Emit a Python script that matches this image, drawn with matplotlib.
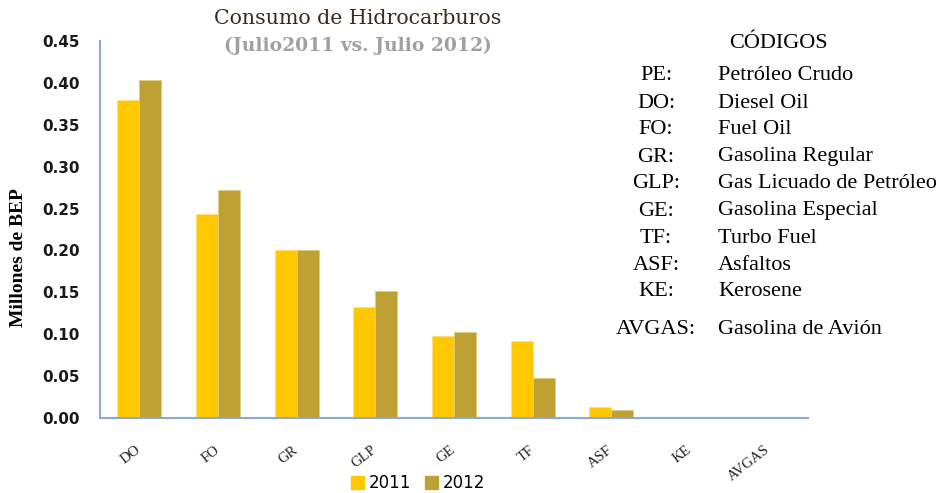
import numpy as np
import matplotlib.pyplot as plt
from matplotlib.patches import Patch

categories = ['DO', 'FO', 'GR', 'GLP', 'GE', 'TF', 'ASF', 'KE', 'AVGAS']
vals_2011 = [0.380, 0.244, 0.200, 0.133, 0.098, 0.092, 0.013, 0.0, 0.0]
vals_2012 = [0.403, 0.272, 0.200, 0.151, 0.103, 0.048, 0.010, 0.0, 0.0]
series_names = ['2011', '2012']

codes = ['PE:', 'DO:', 'FO:', 'GR:', 'GLP:', 'GE:', 'TF:', 'ASF:', 'KE:', 'AVGAS:']
code_names = ['Petróleo Crudo', 'Diesel Oil', 'Fuel Oil', 'Gasolina Regular',
              'Gas Licuado de Petróleo', 'Gasolina Especial', 'Turbo Fuel',
              'Asfaltos', 'Kerosene', 'Gasolina de Avión']

c2011 = '#FFC800'
c2012 = '#BFA033'
axis_col = '#8EA9D0'
serif = 'Liberation Serif'

fig = plt.figure(figsize=(9.37, 4.93), dpi=100)
ax = fig.add_axes([100/937, 1-418/493, 708/937, 377/493])

x = np.arange(len(categories))
w = 0.28
ax.bar(x - w/2, vals_2011, w, color=c2011, edgecolor='#FFE080', linewidth=0.6)
ax.bar(x + w/2, vals_2012, w, color=c2012, edgecolor='#E0CC80', linewidth=0.6)

ax.set_xlim(-0.5, len(categories) - 0.5)
ax.set_ylim(0, 0.45)
yt = np.arange(0, 0.451, 0.05)
ax.set_yticks(yt)
ax.set_yticklabels(['%.2f' % v for v in yt], fontsize=11, fontweight='bold',
                   color='#1A1A1A')
ax.set_xticks(x)
ax.set_xticklabels(categories, rotation=38, ha='right', va='center',
                   rotation_mode='anchor', family=serif, fontsize=10.5,
                   color='#222222')
ax.tick_params(axis='both', length=0)
ax.tick_params(axis='y', pad=14.5)
ax.tick_params(axis='x', pad=22)

for s in ['top', 'right']:
    ax.spines[s].set_visible(False)
for s in ['left', 'bottom']:
    ax.spines[s].set_color(axis_col)
    ax.spines[s].set_linewidth(1.5)

ax.set_ylabel('Millones de BEP', family=serif, fontweight='bold', fontsize=14)
ax.yaxis.set_label_coords(-73/708, (418-258)/377)

fig.text(358/937, 1-19/493, 'Consumo de Hidrocarburos', ha='center', va='center',
         family='DejaVu Serif', fontsize=14.8, color='#3A2A1A')
fig.text(358/937, 1-46/493, '(Julio2011 vs. Julio 2012)', ha='center', va='center',
         family='DejaVu Serif', fontsize=13.5, fontweight='bold', color='#A0A0A0')

handles = [Patch(color=c2011), Patch(color=c2012)]
fig.legend(handles, series_names, loc='center', bbox_to_anchor=(418/937, 1-483/493),
           ncol=2, frameon=False, fontsize=12, handlelength=0.8, handleheight=0.8,
           handletextpad=0.3, columnspacing=0.8, borderpad=0.1)

fig.text(778/937, 1-44/493, 'CÓDIGOS', ha='center', va='center',
         family=serif, fontsize=16)
rows_y = [76, 103, 130, 157, 184, 211, 238, 265, 292, 330]
for code, name, yy in zip(codes, code_names, rows_y):
    fig.text(656/937, 1-yy/493, code, ha='center', va='center', family=serif, fontsize=16)
    fig.text(718/937, 1-yy/493, name, ha='left', va='center', family=serif, fontsize=16)

fig.savefig('out.png', dpi=100)
